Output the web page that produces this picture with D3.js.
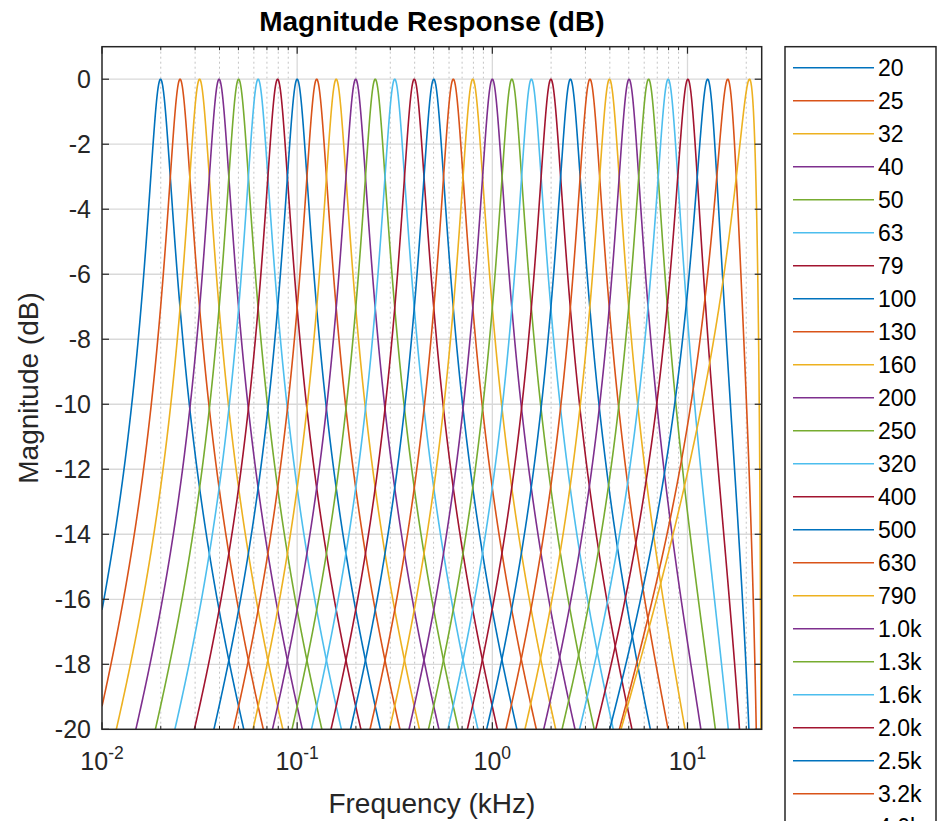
<!DOCTYPE html>
<html>
<head>
<meta charset="utf-8">
<script src="https://cdn.jsdelivr.net/npm/d3@7"></script>
<style>
  html, body { margin: 0; padding: 0; background: #fff; overflow: hidden; }
  svg { display: block; font-family: "Liberation Sans", Arial, Helvetica, sans-serif; }
</style>
</head>
<body>
<svg id="chart" width="937" height="821"></svg>
<script>
// ---------------- data ----------------
const sampleRateHz = 48000;               // x axis ends at Nyquist, 24 kHz
const bandEdgeRatio = 1.122;              // band edges at centre / ratio and centre * ratio (1/3 octave, base 10)
const bandLabels = ["20","25","32","40","50","63","79","100","130","160","200","250","320","400","500","630","790",
                    "1.0k","1.3k","1.6k","2.0k","2.5k","3.2k","4.0k","5.0k","6.3k","7.9k","10k","13k","16k","20k"];
const bandCentersHz = [19.95, 25.12, 31.62, 39.81, 50.12, 63.10, 79.43, 100.0, 125.9, 158.5, 199.5, 251.2, 316.2,
                       398.1, 501.2, 631.0, 794.3, 1000, 1259, 1585, 1995, 2512, 3162, 3981, 5012, 6310, 7943,
                       10000, 12589, 15849, 19953];
const xDomainKHz = [0.01, 24];
const yDomainDB = [-20, 1];
const xTickValues = [0.01, 0.1, 1, 10];
const xTickBase = ["10","10","10","10"];
const xTickExponents = ["-2","-1","0","1"];
const yTickValues = [0, -2, -4, -6, -8, -10, -12, -14, -16, -18, -20];
const yTickLabels = ["0","-2","-4","-6","-8","-10","-12","-14","-16","-18","-20"];
const seriesColors = ["#0072BD","#D95319","#EDB120","#7E2F8E","#77AC30","#4DBEEE","#A2142F"];
const titleText = "Magnitude Response (dB)";
const xLabelText = "Frequency (kHz)";
const yLabelText = "Magnitude (dB)";

// ---------------- layout ----------------
const W = 937, H = 821;
const plot = { left: 102, right: 761.7, top: 46.7, bottom: 729.3 };
const FONT_TICK = 25, FONT_LABEL = 28, FONT_TITLE = 28, FONT_LEGEND = 23;
const AXIS_COLOR = "#262626";
const LINE_W = 1.6;

const svg = d3.select("#chart");
const x = d3.scaleLog().domain(xDomainKHz).range([plot.left, plot.right]);
const y = d3.scaleLinear().domain(yDomainDB).range([plot.bottom, plot.top]);

// ---------------- filter response (band-pass, bilinear, prewarped edges) ----------------
function responseDB(fHz, fc) {
  const t = f => Math.tan(Math.PI * Math.min(f, sampleRateHz / 2 - 1e-6) / sampleRateHz);
  const w1 = t(fc / bandEdgeRatio), w2 = t(fc * bandEdgeRatio);
  const B = w2 - w1, W0sq = w1 * w2;
  const w = t(fHz);
  const num = B * B * w * w;
  const den = (W0sq - w * w) ** 2 + num;
  return Math.max(10 * Math.log10(num / den), -80);
}
// evaluation grid: the x axis range in Hz, sampled on the log axis
const evalGrid = d3.range(0, 2401).map(i => {
  const lo = Math.log10(10), hi = Math.log10(23999.5);
  return Math.pow(10, lo + (hi - lo) * i / 2400);
});

// ---------------- grid ----------------
const defs = svg.append("defs");
defs.append("clipPath").attr("id", "plotClip")
  .append("rect").attr("x", plot.left).attr("y", plot.top)
  .attr("width", plot.right - plot.left).attr("height", plot.bottom - plot.top);

const gGrid = svg.append("g");
const minorX = [];
[0.01, 0.1, 1, 10].forEach(d => { for (let k = 2; k <= 9; k++) { const v = d * k; if (v < xDomainKHz[1]) minorX.push(v); } });
gGrid.selectAll("line.minx").data(minorX).join("line")
  .attr("x1", d => x(d)).attr("x2", d => x(d))
  .attr("y1", plot.top).attr("y2", plot.bottom)
  .attr("stroke", "#c4c4c4").attr("stroke-width", 1).attr("stroke-dasharray", "2,3");
gGrid.selectAll("line.majx").data(xTickValues.filter(d => d > xDomainKHz[0])).join("line")
  .attr("x1", d => x(d)).attr("x2", d => x(d))
  .attr("y1", plot.top).attr("y2", plot.bottom)
  .attr("stroke", "#d9d9d9").attr("stroke-width", 1.3);
gGrid.selectAll("line.majy").data(yTickValues.filter(d => d > yDomainDB[0])).join("line")
  .attr("x1", plot.left).attr("x2", plot.right)
  .attr("y1", d => y(d)).attr("y2", d => y(d))
  .attr("stroke", "#d9d9d9").attr("stroke-width", 1.3);

// ---------------- curves ----------------
const line = d3.line().x(d => x(d[0] / 1000)).y(d => y(d[1]));
const gCurves = svg.append("g").attr("clip-path", "url(#plotClip)");
bandCentersHz.forEach((fc, i) => {
  const pts = evalGrid.map(f => [f, responseDB(f, fc)]);
  gCurves.append("path").datum(pts)
    .attr("d", line)
    .attr("fill", "none")
    .attr("stroke", seriesColors[i % seriesColors.length])
    .attr("stroke-width", LINE_W)
    .attr("stroke-linejoin", "round");
});

// ---------------- axes box + ticks ----------------
const gAxes = svg.append("g");
gAxes.append("rect").attr("x", plot.left).attr("y", plot.top)
  .attr("width", plot.right - plot.left).attr("height", plot.bottom - plot.top)
  .attr("fill", "none").attr("stroke", AXIS_COLOR).attr("stroke-width", 1.5);
const MAJ = 7, MIN = 3.5;
xTickValues.forEach(v => {
  [[plot.bottom, -MAJ], [plot.top, MAJ]].forEach(([yy, dl]) => {
    gAxes.append("line").attr("x1", x(v)).attr("x2", x(v)).attr("y1", yy).attr("y2", yy + dl)
      .attr("stroke", AXIS_COLOR).attr("stroke-width", 1.2);
  });
});
minorX.forEach(v => {
  [[plot.bottom, -MIN], [plot.top, MIN]].forEach(([yy, dl]) => {
    gAxes.append("line").attr("x1", x(v)).attr("x2", x(v)).attr("y1", yy).attr("y2", yy + dl)
      .attr("stroke", AXIS_COLOR).attr("stroke-width", 1);
  });
});
yTickValues.forEach(v => {
  [[plot.left, MAJ], [plot.right, -MAJ]].forEach(([xx, dl]) => {
    gAxes.append("line").attr("x1", xx).attr("x2", xx + dl).attr("y1", y(v)).attr("y2", y(v))
      .attr("stroke", AXIS_COLOR).attr("stroke-width", 1.2);
  });
});

// tick labels
const gXT = svg.append("g").attr("fill", AXIS_COLOR);
xTickValues.forEach((v, i) => {
  const t = gXT.append("text").attr("x", x(v)).attr("y", 770)
    .attr("text-anchor", "middle").attr("font-size", FONT_TICK);
  t.append("tspan").text(xTickBase[i]);
  t.append("tspan").attr("dy", -11).attr("font-size", FONT_TICK * 0.7).text(xTickExponents[i]);
});
const gYT = svg.append("g").attr("fill", AXIS_COLOR);
yTickValues.forEach((v, i) => {
  gYT.append("text").attr("x", 91).attr("y", y(v)).attr("dy", "0.36em")
    .attr("text-anchor", "end").attr("font-size", FONT_TICK).text(yTickLabels[i]);
});

// labels + title
svg.append("text").attr("x", (plot.left + plot.right) / 2).attr("y", 813)
  .attr("text-anchor", "middle").attr("font-size", FONT_LABEL).attr("fill", AXIS_COLOR).text(xLabelText);
svg.append("text").attr("transform", `translate(38,${(plot.top + plot.bottom) / 2}) rotate(-90)`)
  .attr("text-anchor", "middle").attr("font-size", FONT_LABEL).attr("fill", AXIS_COLOR).text(yLabelText);
svg.append("text").attr("x", (plot.left + plot.right) / 2).attr("y", 31)
  .attr("text-anchor", "middle").attr("font-size", FONT_TITLE).attr("font-weight", "bold")
  .attr("fill", "#000").text(titleText);

// ---------------- legend (box runs past the bottom of the figure) ----------------
const lg = svg.append("g");
const lgTop = 46.7, lgLeft = 785, lgRight = 936, rowH = 33, firstRow = 67.7;
lg.append("rect").attr("x", lgLeft).attr("y", lgTop).attr("width", lgRight - lgLeft)
  .attr("height", firstRow - lgTop + rowH * bandLabels.length)
  .attr("fill", "#fff").attr("stroke", AXIS_COLOR).attr("stroke-width", 1.5);
bandLabels.forEach((lab, i) => {
  const yy = firstRow + i * rowH;
  if (yy - FONT_LEGEND * 0.5 > H) return;   // rows entirely below the figure are not visible
  lg.append("line").attr("x1", 793).attr("x2", 874).attr("y1", yy).attr("y2", yy)
    .attr("stroke", seriesColors[i % seriesColors.length]).attr("stroke-width", LINE_W);
  lg.append("text").attr("x", 878).attr("y", yy).attr("dy", "0.36em")
    .attr("font-size", FONT_LEGEND).attr("fill", "#000").text(lab);
});
</script>
</body>
</html>
